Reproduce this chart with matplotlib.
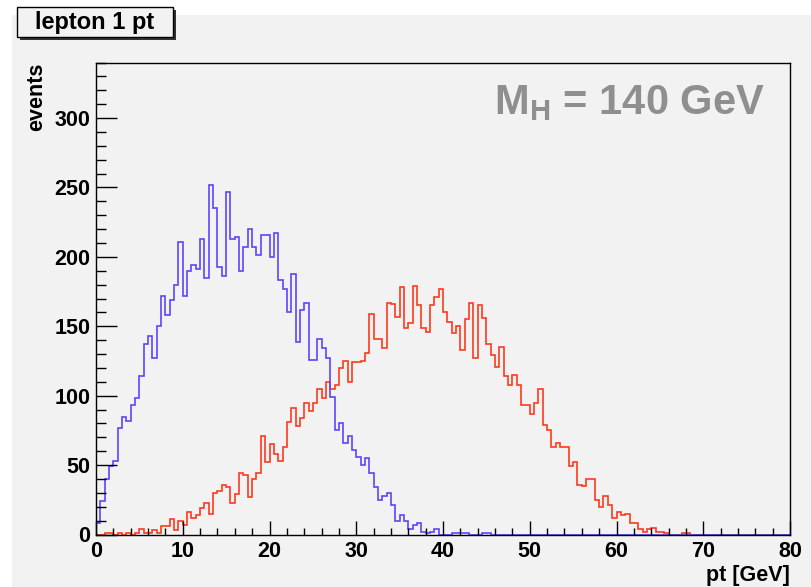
import matplotlib
matplotlib.use("Agg")
import matplotlib.pyplot as plt
from matplotlib.patches import Rectangle
import numpy as np

plt.rcParams['font.family'] = ['Liberation Sans', 'DejaVu Sans']
plt.rcParams['font.weight'] = 'bold'
plt.rcParams['mathtext.fontset'] = 'custom'
plt.rcParams['mathtext.rm'] = 'Liberation Sans:bold'
plt.rcParams['mathtext.bf'] = 'Liberation Sans:bold'

# histogram contents, 0.5 GeV bins starting at 0
bin_width = 0.5
n_bins = 160
blue_counts = [8, 24, 40, 49, 53, 77, 85, 82, 93, 98,
               114, 137, 143, 127, 150, 172, 158, 169, 180, 211,
               172, 190, 194, 191, 213, 185, 252, 235, 193, 186,
               247, 213, 214, 190, 207, 220, 207, 201, 216, 216,
               200, 217, 183, 177, 160, 188, 139, 162, 167, 126,
               126, 141, 134, 127, 99, 75, 80, 66, 71, 61,
               56, 50, 55, 44, 34, 25, 28, 30, 21, 10,
               14, 10, 4, 7, 8, 2, 1, 2, 4, 0,
               0, 0, 1, 1, 1, 1, 0, 0, 0, 1, 1]
red_counts = [0, 0, 1, 1, 0, 1, 0, 1, 0, 1,
              4, 1, 1, 3, 1, 6, 6, 11, 3, 10,
              7, 16, 12, 14, 19, 23, 15, 30, 31, 36,
              34, 23, 29, 44, 43, 27, 40, 44, 71, 52,
              65, 58, 53, 63, 81, 91, 78, 84, 95, 89,
              95, 105, 98, 110, 105, 108, 120, 125, 110, 124,
              124, 125, 131, 159, 141, 141, 134, 167, 166, 157,
              178, 149, 152, 179, 165, 149, 146, 165, 171, 177,
              160, 153, 145, 150, 133, 155, 167, 127, 165, 156,
              137, 129, 121, 135, 114, 108, 115, 108, 93, 93,
              87, 95, 105, 79, 75, 63, 66, 63, 63, 49,
              52, 36, 35, 40, 40, 25, 20, 28, 21, 12,
              16, 14, 15, 8, 8, 4, 2, 4, 5, 2,
              2, 1, 0, 0, 0, 1, 1]

xticks = [0, 10, 20, 30, 40, 50, 60, 70, 80]
yticks = [0, 50, 100, 150, 200, 250, 300]

edges = np.arange(n_bins + 1) * bin_width
blue = np.array(blue_counts + [0] * (n_bins - len(blue_counts)))
red = np.array(red_counts + [0] * (n_bins - len(red_counts)))

W, H = 811, 587
fig = plt.figure(figsize=(W / 100, H / 100), dpi=100)
fig.patch.set_facecolor('white')
bg = '#f2f2f2'
# canvas (screenshot leaves a thin white margin top/left)
fig.patches.append(Rectangle((12 / W, 0), 1, 1 - 15 / H, transform=fig.transFigure,
                             facecolor=bg, edgecolor='none', zorder=-10))

ax = fig.add_axes([96 / W, 1 - 534.5 / H, (790 - 96) / W, (534.5 - 62.5) / H])
ax.set_facecolor(bg)
ax.set_zorder(1)

ax.stairs(red, edges, color='#ff3a1e', lw=1.2)
ax.stairs(blue, edges, color='#5a46ff', lw=1.2)

ax.set_xlim(0, 80)
ax.set_ylim(0, 340)
ax.set_xticks(xticks)
ax.set_xticks(np.arange(0, 81, 2), minor=True)
ax.set_yticks(yticks)
ax.set_yticks(np.arange(0, 341, 10), minor=True)
ax.tick_params(axis='both', which='both', direction='in', labelsize=15.5, width=1)
ax.tick_params(axis='y', which='major', length=15, pad=4)
ax.tick_params(axis='y', which='minor', length=7.5)
ax.tick_params(axis='x', which='major', length=10, pad=5)
ax.tick_params(axis='x', which='minor', length=5)
for lab in ax.get_xticklabels() + ax.get_yticklabels():
    lab.set_fontweight('bold')
for s in ax.spines.values():
    s.set_color('black')
    s.set_linewidth(1)

fig.text(37 / W, 1 - 63 / H, 'events', rotation=90, ha='center', va='top',
         fontsize=15.5, fontweight='bold')
fig.text(790 / W, 1 - 575 / H, 'pt [GeV]', ha='right', va='center',
         fontsize=15.5, fontweight='bold')

ax.text(0.963, 0.915, r'$\mathbf{M_{H}}$ = 140 GeV', transform=ax.transAxes,
        ha='right', va='center', fontsize=30, fontweight='bold', color='#8f8f8f')

# title box with shadow
fig.patches.append(Rectangle((20 / W, 1 - 40 / H), 156 / W, 30 / H, transform=fig.transFigure,
                             facecolor='#333333', edgecolor='none', zorder=3))
fig.patches.append(Rectangle((17 / W, 1 - 37 / H), 156 / W, 30 / H, transform=fig.transFigure,
                             facecolor=bg, edgecolor='black', lw=1, zorder=4))
fig.text(95 / W, 1 - 22 / H, 'lepton 1 pt', ha='center', va='center',
         fontsize=17, fontweight='bold', zorder=5)

fig.savefig('out.png', dpi=100, facecolor=fig.get_facecolor())
